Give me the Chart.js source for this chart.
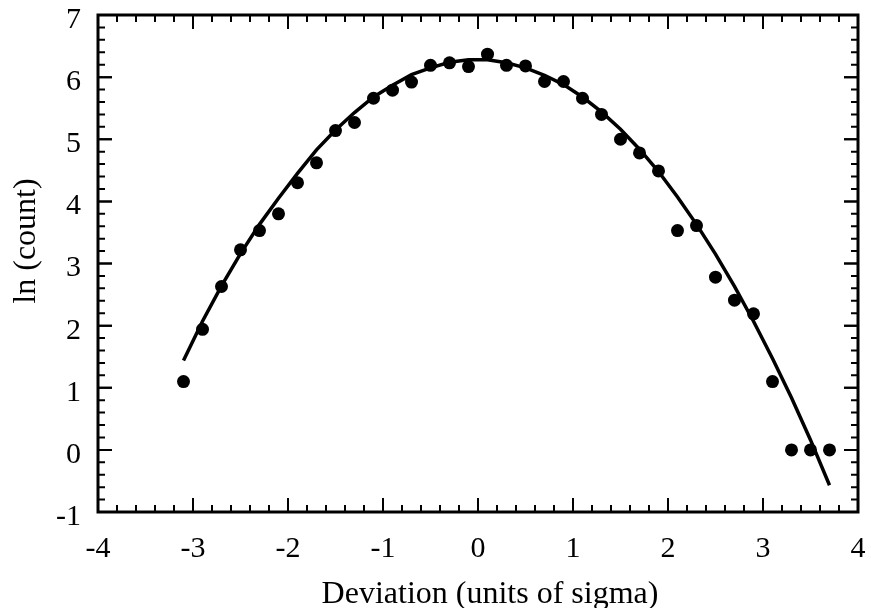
<!DOCTYPE html>
<html>
<head>
<meta charset="utf-8">
<script src="https://cdn.jsdelivr.net/npm/chart.js@4.4.1/dist/chart.umd.min.js"></script>
<style>
  html, body { margin: 0; padding: 0; background: #fff; }
  #wrap { width: 871px; height: 608px; }
</style>
</head>
<body>
<div id="wrap"><canvas id="devChart" width="871" height="608"></canvas></div>
<script>
// Deviation bins (units of sigma)
const deviation = [-3.1, -2.9, -2.7, -2.5, -2.3, -2.1, -1.9, -1.7, -1.5, -1.3, -1.1, -0.9,
  -0.7, -0.5, -0.3, -0.1, 0.1, 0.3, 0.5, 0.7, 0.9, 1.1, 1.3, 1.5, 1.7, 1.9, 2.1, 2.3,
  2.5, 2.7, 2.9, 3.1, 3.3, 3.5, 3.7];

// Measured ln(count) per bin
const lnCount = [1.10, 1.94, 2.63, 3.22, 3.53, 3.80, 4.30, 4.62, 5.14, 5.27, 5.66, 5.79,
  5.92, 6.19, 6.23, 6.17, 6.37, 6.19, 6.18, 5.93, 5.93, 5.66, 5.40, 5.00, 4.78, 4.49,
  3.53, 3.61, 2.78, 2.41, 2.19, 1.10, 0.00, 0.00, 0.00];

// Fitted curve at the same bins
const lnFit = [1.44, 2.07, 2.64, 3.16, 3.63, 4.05, 4.45, 4.83, 5.15, 5.43, 5.68, 5.87,
  6.04, 6.15, 6.24, 6.28, 6.28, 6.23, 6.15, 6.03, 5.88, 5.68, 5.44, 5.16, 4.84, 4.48,
  4.07, 3.63, 3.15, 2.63, 2.07, 1.47, 0.84, 0.16, -0.57];

const xTicks = [-4, -3, -2, -1, 0, 1, 2, 3, 4];
const yTicks = [-1, 0, 1, 2, 3, 4, 5, 6, 7];
const xTitle = 'Deviation (units of sigma)';
const yTitle = 'ln (count)';

const toXY = (ys) => deviation.map((x, i) => ({ x: x, y: ys[i] }));

const serif = 'Liberation Serif';

// Frame on all four sides with inward major/minor ticks, plus axis titles
const frameTicks = {
  id: 'frameTicks',
  afterDraw(chart) {
    const { ctx, chartArea: a, scales } = chart;
    const sx = scales.x, sy = scales.y;
    ctx.save();
    ctx.strokeStyle = '#000';
    ctx.lineCap = 'butt';

    ctx.lineWidth = 2;
    for (let i = 0; i < xTicks.length - 1; i++) {
      for (let k = 0; k <= 5; k++) {
        const v = xTicks[i] + k * (xTicks[i + 1] - xTicks[i]) / 5;
        const px = sx.getPixelForValue(v);
        const len = (k === 0 || k === 5) ? 14 : 7;
        ctx.beginPath();
        ctx.moveTo(px, a.bottom); ctx.lineTo(px, a.bottom - len);
        ctx.moveTo(px, a.top); ctx.lineTo(px, a.top + len);
        ctx.stroke();
      }
    }
    for (let i = 0; i < yTicks.length - 1; i++) {
      for (let k = 0; k <= 5; k++) {
        const v = yTicks[i] + k * (yTicks[i + 1] - yTicks[i]) / 5;
        const py = sy.getPixelForValue(v);
        const len = (k === 0 || k === 5) ? 14 : 7;
        ctx.beginPath();
        ctx.moveTo(a.left, py); ctx.lineTo(a.left + len, py);
        ctx.moveTo(a.right, py); ctx.lineTo(a.right - len, py);
        ctx.stroke();
      }
    }

    ctx.lineWidth = 3;
    ctx.strokeRect(a.left, a.top, a.right - a.left, a.bottom - a.top);

    ctx.fillStyle = '#000';
    ctx.font = '32px "' + serif + '"';
    ctx.textBaseline = 'alphabetic';
    ctx.textAlign = 'center';
    ctx.fillText(xTitle, 490, 603);

    ctx.translate(35, 241);
    ctx.rotate(-Math.PI / 2);
    ctx.fillText(yTitle, 0, 0);
    ctx.restore();
  }
};

new Chart(document.getElementById('devChart').getContext('2d'), {
  type: 'scatter',
  data: {
    datasets: [
      {
        label: 'fit',
        data: toXY(lnFit),
        showLine: true,
        borderColor: '#000',
        borderWidth: 3.5,
        pointRadius: 0,
        tension: 0,
        fill: false,
        order: 2,
      },
      {
        label: 'ln (count)',
        data: toXY(lnCount),
        pointRadius: 6.5,
        pointBackgroundColor: '#000',
        pointBorderColor: '#000',
        pointBorderWidth: 0,
        showLine: false,
        order: 1,
      },
    ],
  },
  options: {
    responsive: false,
    animation: false,
    devicePixelRatio: 1,
    layout: { padding: { top: 15, right: 13, left: 0, bottom: 0 } },
    plugins: {
      legend: { display: false },
      tooltip: { enabled: false },
    },
    scales: {
      x: {
        type: 'linear',
        min: -4,
        max: 4,
        afterFit: (s) => { s.height = 96; s.paddingLeft = 0; s.paddingRight = 0; },
        afterBuildTicks: (s) => { s.ticks = xTicks.map((v) => ({ value: v })); },
        grid: { display: false, drawTicks: false },
        border: { display: false },
        ticks: {
          padding: 19,
          color: '#000',
          font: { family: serif, size: 30 },
          maxRotation: 0,
        },
      },
      y: {
        type: 'linear',
        min: -1,
        max: 7,
        afterFit: (s) => { s.width = 98; s.paddingTop = 0; s.paddingBottom = 0; },
        afterBuildTicks: (s) => { s.ticks = yTicks.map((v) => ({ value: v })); },
        grid: { display: false, drawTicks: false },
        border: { display: false },
        ticks: {
          padding: 17,
          labelOffset: 5,
          color: '#000',
          font: { family: serif, size: 30 },
        },
      },
    },
  },
  plugins: [frameTicks],
});
</script>
</body>
</html>
